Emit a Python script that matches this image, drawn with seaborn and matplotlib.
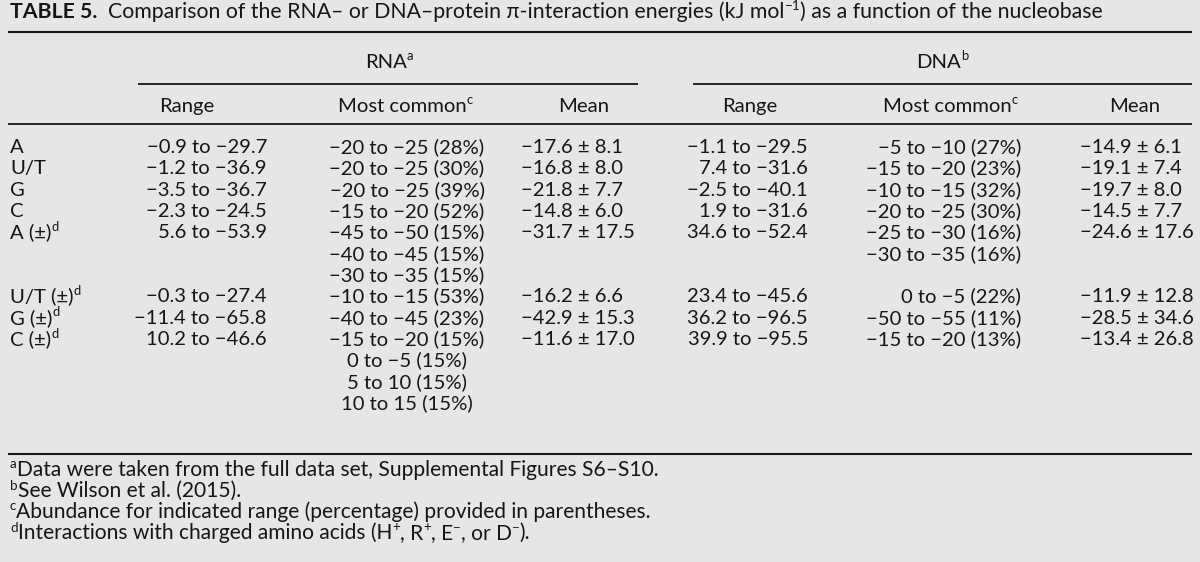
import matplotlib
matplotlib.use("Agg")
import matplotlib.pyplot as plt
import seaborn as sns

# === Table content ===
# text runs: (string, kind) where kind is "n" normal, "s" superscript, "b" bold
row_labels = [[("A", "n")], [("U/T", "n")], [("G", "n")], [("C", "n")],
              [("A (±)", "n"), ("d", "s")], [("U/T (±)", "n"), ("d", "s")],
              [("G (±)", "n"), ("d", "s")], [("C (±)", "n"), ("d", "s")]]

rna_range = ["−0.9 to −29.7", "−1.2 to −36.9", "−3.5 to −36.7", "−2.3 to −24.5",
             "5.6 to −53.9", "−0.3 to −27.4", "−11.4 to −65.8", "10.2 to −46.6"]
rna_common = [["−20 to −25 (28%)"], ["−20 to −25 (30%)"], ["−20 to −25 (39%)"],
              ["−15 to −20 (52%)"],
              ["−45 to −50 (15%)", "−40 to −45 (15%)", "−30 to −35 (15%)"],
              ["−10 to −15 (53%)"], ["−40 to −45 (23%)"],
              ["−15 to −20 (15%)", "0 to −5 (15%)", "5 to 10 (15%)", "10 to 15 (15%)"]]
rna_mean = ["−17.6 ± 8.1", "−16.8 ± 8.0", "−21.8 ± 7.7", "−14.8 ± 6.0",
            "−31.7 ± 17.5", "−16.2 ± 6.6", "−42.9 ± 15.3", "−11.6 ± 17.0"]

dna_range = ["−1.1 to −29.5", "7.4 to −31.6", "−2.5 to −40.1", "1.9 to −31.6",
             "34.6 to −52.4", "23.4 to −45.6", "36.2 to −96.5", "39.9 to −95.5"]
dna_common = [["−5 to −10 (27%)"], ["−15 to −20 (23%)"], ["−10 to −15 (32%)"],
              ["−20 to −25 (30%)"],
              ["−25 to −30 (16%)", "−30 to −35 (16%)"],
              ["0 to −5 (22%)"], ["−50 to −55 (11%)"], ["−15 to −20 (13%)"]]
dna_mean = ["−14.9 ± 6.1", "−19.1 ± 7.4", "−19.7 ± 8.0", "−14.5 ± 7.7",
            "−24.6 ± 17.6", "−11.9 ± 12.8", "−28.5 ± 34.6", "−13.4 ± 26.8"]

sub_headers = [[("Range", "n")], [("Most common", "n"), ("c", "s")], [("Mean", "n")]]
group_headers = [[("RNA", "n"), ("a", "s")], [("DNA", "n"), ("b", "s")]]

title = [("TABLE 5.", "b"),
         ("  Comparison of the RNA– or DNA–protein π-interaction energies (kJ mol", "n"),
         ("−1", "s"), (") as a function of the nucleobase", "n")]
footnotes = [[("a", "s"), ("Data were taken from the full data set, Supplemental Figures S6–S10.", "n")],
             [("b", "s"), ("See Wilson et al. (2015).", "n")],
             [("c", "s"), ("Abundance for indicated range (percentage) provided in parentheses.", "n")],
             [("d", "s"), ("Interactions with charged amino acids (H", "n"), ("+", "s"),
              (", R", "n"), ("+", "s"), (", E", "n"), ("−", "s"), (", or D", "n"), ("−", "s"), (").", "n")]]

# === Style ===
bg = "#e6e6e6"
sns.set_theme(style="white", rc={"figure.facecolor": bg, "axes.facecolor": bg})
plt.rcParams["font.family"] = ["Lato", "DejaVu Sans"]
fs = 14.6
ink = "#161616"
base = 6.0  # baseline offset below the visual line centre

fig = plt.figure(figsize=(12, 5.62), dpi=100)
ax = fig.add_axes([0, 0, 1, 1])
ax.set_xlim(0, 1200)
ax.set_ylim(562, 0)
ax.axis("off")
renderer = fig.canvas.get_renderer()


def run_kw(kind, size):
    if kind == "s":
        return dict(fontsize=size * 0.64), -7.5
    if kind == "b":
        return dict(fontsize=size, fontweight="bold"), 0.0
    return dict(fontsize=size), 0.0


def put(x, y, s, ha="left", size=fs):
    ax.text(x, y + base, s, fontsize=size, color=ink, va="baseline", ha=ha)


def rich(x, y, runs, ha="left", size=fs):
    # measure each run, then lay them out side by side
    widths = []
    for s, kind in runs:
        kw, _ = run_kw(kind, size)
        t = ax.text(0, 0, s.replace(" ", "\u00a0"), **kw)
        widths.append(t.get_window_extent(renderer).width)
        t.remove()
    total = sum(widths)
    x0 = {"left": x, "center": x - total / 2, "right": x - total}[ha]
    for (s, kind), w in zip(runs, widths):
        kw, dy = run_kw(kind, size)
        ax.text(x0, y + base + dy, s.replace(" ", "\u00a0"), color=ink,
                va="baseline", ha="left", **kw)
        x0 += w


# column anchors: (x, ha) for range / most common / mean
rna_cols = [(267, "right"), (407, "center"), (521, "left")]
dna_cols = [(808, "right"), (1021, "right"), (1080, "left")]
sub_centers = [[187, 405, 584], [750, 950, 1135]]
group_centers = [389, 942]
group_spans = [(138, 638), (693, 1192)]

rich(10, 12, title, size=15.3)
ax.plot([8, 1192], [32, 32], color=ink, lw=1.5, solid_capstyle="butt")

for gh, cx, (x0, x1), subs in zip(group_headers, group_centers, group_spans, sub_centers):
    rich(cx, 62, gh, ha="center")
    ax.plot([x0, x1], [84, 84], color=ink, lw=1.3, solid_capstyle="butt")
    for sh, sx in zip(sub_headers, subs):
        rich(sx, 106, sh, ha="center")
ax.plot([8, 1192], [124, 124], color=ink, lw=1.3, solid_capstyle="butt")

# body
line_h = 21.35
y = 147
for i, lab in enumerate(row_labels):
    rich(10, y, lab)
    cells = [(rna_cols, [rna_range[i]], 0), (rna_cols, rna_common[i], 1), (rna_cols, [rna_mean[i]], 2),
             (dna_cols, [dna_range[i]], 0), (dna_cols, dna_common[i], 1), (dna_cols, [dna_mean[i]], 2)]
    n_lines = 1
    for cols, lines, k in cells:
        x, ha = cols[k]
        for j, s in enumerate(lines):
            put(x, y + j * line_h, s, ha=ha)
        n_lines = max(n_lines, len(lines))
    y += n_lines * line_h

ax.plot([8, 1192], [454, 454], color=ink, lw=1.5, solid_capstyle="butt")

for j, fn in enumerate(footnotes):
    rich(10, 470 + j * 21, fn, size=15.1)

fig.savefig("out.png", dpi=100, facecolor=bg)
